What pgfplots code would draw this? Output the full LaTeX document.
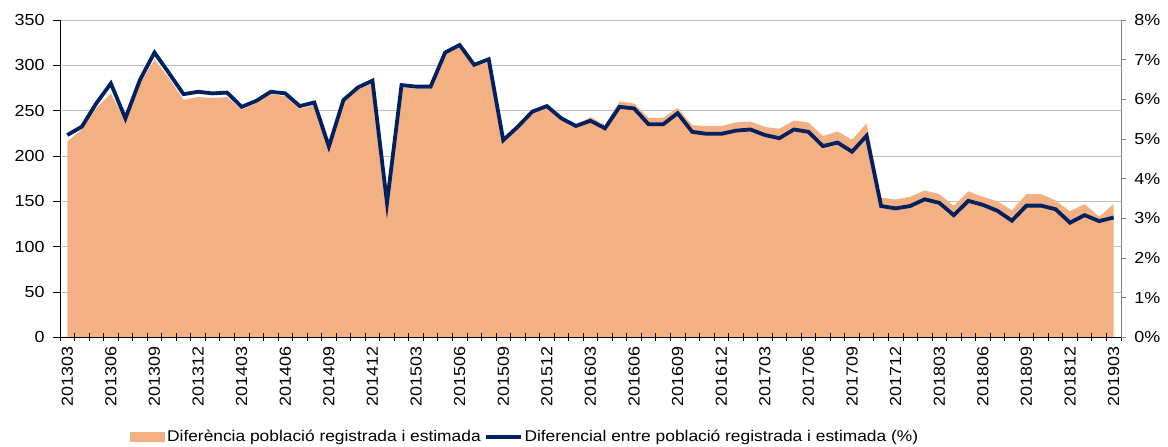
\documentclass[border=0pt]{standalone}
\usepackage{fontspec}
\setmainfont{Liberation Sans}[FakeStretch=1.12]
\usepackage{pgfplots}
\usepackage{pgfplotstable}
\pgfplotsset{compat=1.18}

\definecolor{areaorange}{RGB}{243,176,131}
\definecolor{navy}{RGB}{0,32,96}
\definecolor{gridgray}{RGB}{191,191,191}
\definecolor{axgray}{RGB}{128,128,128}

% i = month index (0 = 201303), area = difference, pct = differential (%)
\pgfplotstableread{
i area pct
0 216 5.10
1 229 5.31
2 253 5.90
3 269 6.40
4 238 5.52
5 280 6.49
6 306 7.18
7 286 6.66
8 262 6.13
9 265 6.19
10 264 6.15
11 265 6.17
12 251 5.81
13 258 5.96
14 268 6.19
15 266 6.15
16 252 5.83
17 256 5.92
18 208 4.81
19 259 5.98
20 273 6.30
21 280 6.47
22 147 3.39
23 276 6.36
24 274 6.32
25 274 6.32
26 312 7.18
27 320 7.37
28 298 6.87
29 304 7.01
30 216 4.97
31 231 5.31
32 248 5.69
33 254 5.83
34 241 5.52
35 234 5.33
36 243 5.46
37 234 5.27
38 260 5.81
39 258 5.77
40 242 5.37
41 242 5.37
42 253 5.65
43 234 5.18
44 233 5.13
45 233 5.13
46 237 5.21
47 238 5.24
48 232 5.10
49 230 5.02
50 239 5.24
51 237 5.18
52 222 4.82
53 227 4.91
54 218 4.68
55 236 5.08
56 154 3.31
57 152 3.25
58 155 3.31
59 162 3.48
60 158 3.39
61 145 3.08
62 161 3.44
63 155 3.34
64 150 3.19
65 140 2.94
66 158 3.32
67 158 3.32
68 151 3.23
69 139 2.89
70 147 3.08
71 133 2.93
72 147 3.02
}\data

\pgfplotsset{
  common/.style={
    scale only axis,
    width=1061bp, height=317.3bp,
    at={(60bp,109.7bp)}, anchor=south west,
    xmin=-0.5, xmax=72.5,
    tick label style={font=\fontsize{16bp}{18bp}\selectfont},
    /pgf/number format/assume math mode=true,
    tick align=outside,
  },
}

\begin{document}
\begin{tikzpicture}
% left axis: area, grid, labels
\begin{axis}[
    common,
    ymin=0, ymax=350,
    ytick={0,50,...,350},
    axis x line*=bottom,
    axis y line*=left,
    ymajorgrids,
    grid style={gridgray, line width=0.9bp},
    major tick length=7bp,
    tick style={black, line width=0.8bp},
    axis line style={black, line width=0.8bp},
    x tick style={draw=none},
    xtick={0,3,...,72},
    xticklabels={201303,201306,201309,201312,201403,201406,201409,201412,201503,201506,201509,201512,201603,201606,201609,201612,201703,201706,201709,201712,201803,201806,201809,201812,201903},
    x tick label style={rotate=90, anchor=east, xshift=1bp},
    yticklabel style={xshift=-5bp},
    legend style={at={(0.0631,-0.3142)}, anchor=west, draw=none, fill=none,
      legend columns=2, font=\fontsize{15.5bp}{17bp}\selectfont,
      /tikz/every even column/.append style={column sep=1bp}},
]
\addplot[fill=areaorange, draw=none,
  legend image code/.code={\fill[areaorange] (0bp,-5bp) rectangle (35bp,5bp);}]
  table[x=i, y=area] {\data} \closedcycle;
\addlegendentry{Diferència població registrada i estimada}
\addlegendimage{legend image code/.code={\draw[navy, line width=3.8bp] (0bp,0bp) -- (35bp,0bp);}}
\addlegendentry{Diferencial entre població registrada i estimada (\%)}
\end{axis}

% bottom axis line with month ticks, drawn over the area
\begin{axis}[
    common,
    ymin=0, ymax=1,
    axis y line=none,
    axis x line*=bottom,
    axis line style={black, line width=0.8bp},
    xtick={-0.5,0.5,...,72.5},
    xticklabels={},
    tick align=center,
    major tick length=8bp,
    tick style={black, line width=0.8bp},
]
\end{axis}

% right axis: percentage line
\begin{axis}[
    common,
    ymin=0, ymax=8,
    ytick={0,1,...,8},
    yticklabels={0\%,1\%,2\%,3\%,4\%,5\%,6\%,7\%,8\%},
    axis x line=none,
    axis y line*=right,
    axis line style={axgray, line width=0.8bp},
    tick style={axgray, line width=0.8bp},
    major tick length=5bp,
    yticklabel style={xshift=5bp},
]
\addplot[navy, line width=3.8bp] table[x=i, y=pct] {\data};
\end{axis}
\pgfresetboundingbox
\useasboundingbox (0,0) rectangle (1168bp,447bp);
\end{tikzpicture}
\end{document}
